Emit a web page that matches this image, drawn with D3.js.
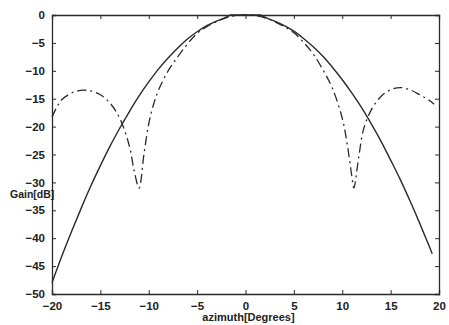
<!DOCTYPE html>
<html>
<head>
<meta charset="utf-8">
<script src="https://cdn.jsdelivr.net/npm/d3@7"></script>
<style>
  body { margin: 0; background: #fff; }
  text { font-family: "Liberation Sans", Arial, sans-serif; fill: #222; }
</style>
</head>
<body>
<svg id="chart" width="449" height="325"></svg>
<script>
// tick values
const xTicks = [-20, -15, -10, -5, 0, 5, 10, 15, 20];
const yTicks = [0, -5, -10, -15, -20, -25, -30, -35, -40, -45, -50];

// solid curve (main beam)
const solidAz = [-20, -19, -18, -17, -16, -15, -14, -13, -12, -11, -10, -9, -8, -7, -6, -5, -4, -3, -2, -1.5, 0,
  1.5, 2, 3, 4, 5, 6, 7, 8, 9, 10, 11, 12, 13, 14, 15, 16, 17, 18, 19, 19.3];
const solidGain = [-48, -43.3, -38.9, -34.7, -30.7, -27, -23.5, -20.3, -17.3, -14.5, -12, -9.7, -7.7, -5.9, -4.3, -3, -1.9, -1.1, -0.4, 0, 0,
  0, -0.4, -1.1, -1.9, -2.9, -4.2, -5.7, -7.4, -9.4, -11.6, -14, -16.6, -19.5, -22.6, -26, -29.5, -33.3, -37.3, -41.5, -42.8];

// dashed curve (sidelobe pattern)
const dashAz = [-20, -19.5, -19, -18, -17, -16, -15, -14, -13, -12, -11.5, -11, -10.5, -10, -9.5, -9, -8, -7, -6, -5, -4, -3, -2, -1, 0,
  1, 2, 3, 4, 5, 6, 7, 8, 9, 10, 10.5, 11, 11.2, 11.7, 12.2, 13, 14, 15, 16, 17, 18, 19, 19.5];
const dashGain = [-18.3, -16.5, -15.2, -14, -13.5, -13.6, -14.3, -15.8, -18.5, -23.5, -28, -31, -25, -19.5, -16, -13.5, -10, -7.5, -5.2, -3.3, -2.1, -1.2, -0.5, -0.1, 0,
  -0.1, -0.5, -1.2, -2.1, -3.2, -4.9, -7, -9.8, -13.2, -18.5, -23, -29, -31, -25.5, -20.5, -17, -14.6, -13.4, -13, -13.4, -14.3, -15.3, -16];

const svg = d3.select('#chart');
const L = 52, R = 439, T = 15, B = 294;

const x = d3.scaleLinear().domain([-20, 20]).range([L, R]);
const y = d3.scaleLinear().domain([-50, 0]).range([B, T]);

const ink = '#2a2a2a';

// axes with inward ticks on all four sides
const axes = [
  [d3.axisBottom(x).tickValues(xTicks).tickSize(-4).tickPadding(8), `translate(0,${B})`],
  [d3.axisTop(x).tickValues(xTicks).tickSize(-4).tickFormat(''), `translate(0,${T})`],
  [d3.axisLeft(y).tickValues(yTicks).tickSize(-4).tickPadding(7).tickFormat(d3.format('d')), `translate(${L},0)`],
  [d3.axisRight(y).tickValues(yTicks).tickSize(-4).tickFormat(''), `translate(${R},0)`]
];
axes.forEach(([ax, tr]) => {
  const g = svg.append('g').attr('transform', tr).call(ax);
  g.select('.domain').attr('stroke', ink).attr('stroke-width', 1.3);
  g.selectAll('.tick line').attr('stroke', ink).attr('stroke-width', 1);
  g.selectAll('.tick text').attr('font-size', 11.5).attr('font-weight', 'bold')
    .attr('fill', '#222').style('font-family', '"Liberation Sans", Arial, sans-serif');
});

const line = d3.line().x(d => x(d[0])).y(d => y(d[1])).curve(d3.curveMonotoneX);

svg.append('path')
  .datum(solidAz.map((a, i) => [a, solidGain[i]]))
  .attr('d', line)
  .attr('fill', 'none')
  .attr('stroke', ink)
  .attr('stroke-width', 1.4);

svg.append('path')
  .datum(dashAz.map((a, i) => [a, dashGain[i]]))
  .attr('d', d3.line().x(d => x(d[0])).y(d => y(d[1])).curve(d3.curveCatmullRom))
  .attr('fill', 'none')
  .attr('stroke', ink)
  .attr('stroke-width', 1.3)
  .attr('stroke-dasharray', '9,4,2,4');

// axis labels
svg.append('text')
  .attr('x', 10).attr('y', 198)
  .attr('font-size', 10.5).attr('font-weight', 'bold')
  .text('Gain[dB]');

svg.append('text')
  .attr('x', (L + R) / 2 + 3).attr('y', 321)
  .attr('text-anchor', 'middle')
  .attr('font-size', 11).attr('font-weight', 'bold')
  .text('azimuth[Degrees]');
</script>
</body>
</html>
